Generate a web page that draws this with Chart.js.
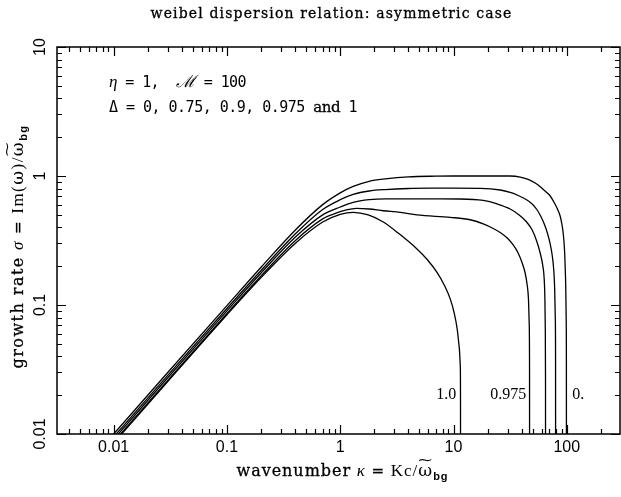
<!DOCTYPE html>
<html>
<head>
<meta charset="utf-8">
<script src="https://cdn.jsdelivr.net/npm/chart.js@4.4.0/dist/chart.umd.min.js"></script>
<style>
  html, body { margin: 0; padding: 0; background: #fff; }
  #wrap { width: 621px; height: 497px; }
</style>
</head>
<body>
<div id="wrap"><canvas id="weibelChart" width="621" height="497"></canvas></div>
<script>
// Growth rate sigma(kappa), one curve per Delta
const kappa0 = [0.003, 0.01, 0.03, 0.1, 0.2, 0.4, 0.7, 1.0, 1.3, 1.8, 2.5, 4, 7, 10, 15, 20, 31.65, 38.8, 45.6, 52.6, 59.4, 65.8, 71.4, 77.4, 82.3, 87.4, 91.1, 93.5, 95.4, 96.8, 98.0, 98.8, 99.2, 99.4];
const sigma0 = [0.003, 0.01, 0.03, 0.099, 0.196, 0.38, 0.60, 0.74, 0.83, 0.91, 0.95, 0.985, 0.997, 1.0, 1.0, 1.0, 1.0, 0.982, 0.94, 0.882, 0.814, 0.751, 0.70, 0.623, 0.56, 0.49, 0.41, 0.343, 0.272, 0.197, 0.133, 0.078, 0.038, 0.0005];

const kappa75 = [0.003, 0.01, 0.03, 0.1, 0.2, 0.4, 0.7, 1.0, 1.3, 1.8, 2.5, 4, 7, 10, 17.2, 25.83, 31.65, 37.2, 43.8, 49.5, 54.8, 59.4, 63.8, 67.8, 71.4, 74.3, 76.6, 78.2, 79.2, 79.6, 79.8];
const sigma75 = [0.00285, 0.0095, 0.0285, 0.094, 0.185, 0.355, 0.55, 0.655, 0.72, 0.765, 0.785, 0.80, 0.805, 0.806, 0.803, 0.779, 0.745, 0.706, 0.657, 0.607, 0.545, 0.481, 0.417, 0.355, 0.297, 0.244, 0.19, 0.133, 0.078, 0.038, 0.0005];

const kappa90 = [0.003, 0.01, 0.03, 0.1, 0.2, 0.4, 0.7, 1.0, 1.3, 1.8, 2.5, 4, 7, 11.5, 18.3, 24.3, 31.65, 38.0, 43.8, 49.5, 54.2, 58.2, 61.3, 63.2, 64.1, 64.6, 64.9, 65.0];
const sigma90 = [0.00273, 0.0091, 0.0273, 0.090, 0.177, 0.335, 0.50, 0.575, 0.625, 0.655, 0.665, 0.665, 0.664, 0.663, 0.646, 0.607, 0.555, 0.499, 0.444, 0.381, 0.313, 0.253, 0.204, 0.159, 0.111, 0.065, 0.0267, 0.0005];

const kappa975 = [0.003, 0.01, 0.03, 0.1, 0.2, 0.4, 0.7, 0.87, 1.0, 1.4, 1.8, 2.4, 3.4, 4.76, 9.37, 14.07, 18.3, 22.4, 25.83, 29.8, 33.65, 37.2, 40.4, 42.9, 44.7, 45.9, 46.6, 46.9, 47.0];
const sigma975 = [0.00261, 0.0087, 0.026, 0.086, 0.168, 0.315, 0.465, 0.507, 0.53, 0.562, 0.555, 0.538, 0.523, 0.499, 0.478, 0.458, 0.425, 0.392, 0.365, 0.331, 0.292, 0.253, 0.2116, 0.177, 0.143, 0.111, 0.0712, 0.032, 0.0005];

const kappa100 = [0.003, 0.01, 0.03, 0.1, 0.2, 0.4, 0.7, 1.0, 1.31, 1.767, 2.40, 3.25, 4.76, 5.86, 7.15, 8.28, 9.37, 10.14, 10.78, 11.23, 11.48, 11.53, 11.55];
const sigma100 = [0.00255, 0.0085, 0.0255, 0.084, 0.163, 0.30, 0.44, 0.505, 0.523, 0.499, 0.44, 0.361, 0.272, 0.2253, 0.179, 0.143, 0.111, 0.0867, 0.0651, 0.0472, 0.0337, 0.0187, 0.0005];

const deltaValues = ['0', '0.75', '0.9', '0.975', '1'];
const xTickLabels = ['0.01', '0.1', '1', '10', '100'];
const yTickLabels = ['0.01', '0.1', '1', '10'];
const curveLabels = ['1.0', '0.975', '0.'];

const SANS = '"Liberation Sans", Arial, sans-serif';
const MONO = '"DejaVu Sans Mono", monospace';
const SERIF = '"Liberation Serif", "Times New Roman", serif';
const DSERIF = '"DejaVu Serif", serif';

function toPoints(ks, ss) {
    return ks.map((k, i) => ({ x: k, y: ss[i] }));
}

function partWidth(ctx, p, sp) {
    ctx.font = p.f;
    ctx.letterSpacing = sp + 'px';
    return ctx.measureText(p.t).width;
}

// draw a run of text pieces {t, f, dy, tilde, heavy}; if target is given the
// letter spacing is widened so the whole run spans that many pixels
function drawRich(ctx, parts, x, y, align, target) {
    let natural = 0, chars = 0;
    parts.forEach(p => { natural += partWidth(ctx, p, 0); chars += p.t.length; });
    const sp = target ? (target - natural) / chars : 0;
    const total = target || natural;
    let cx = align === 'center' ? x - total / 2 : x;
    ctx.textAlign = 'left';
    ctx.textBaseline = 'alphabetic';
    parts.forEach(p => {
        const w = partWidth(ctx, p, sp);
        ctx.fillText(p.t, cx, y + (p.dy || 0));
        if (p.heavy) {
            ctx.lineWidth = 0.3;
            ctx.strokeText(p.t, cx, y + (p.dy || 0));
        }
        if (p.tilde) {
            // wide tilde over omega
            const gw = partWidth(ctx, p, 0);
            ctx.save();
            ctx.letterSpacing = '0px';
            ctx.translate(cx + gw / 2, y - 12);
            ctx.scale(1.5, 1);
            ctx.font = '13px ' + DSERIF;
            ctx.textAlign = 'center';
            ctx.fillText('~', 0, 0);
            ctx.restore();
        }
        cx += w;
    });
    ctx.letterSpacing = '0px';
}

const axesPlugin = {
    id: 'axesPlugin',
    afterDraw(chart) {
        const ctx = chart.ctx;
        const xs = chart.scales.x, ys = chart.scales.y;
        const a = chart.chartArea;
        ctx.save();
        ctx.strokeStyle = '#000';
        ctx.fillStyle = '#000';

        // frame
        ctx.lineWidth = 1.5;
        ctx.strokeRect(a.left, a.top, a.right - a.left, a.bottom - a.top);

        // inward ticks on all four sides
        ctx.lineWidth = 1.2;
        ctx.beginPath();
        for (let d = -3; d <= 2; d++) {
            for (let m = 1; m <= 9; m++) {
                const v = m * Math.pow(10, d);
                if (v < xs.min || v > xs.max) continue;
                const px = Math.round(xs.getPixelForValue(v)) + 0.5;
                const len = m === 1 ? 9 : 5;
                ctx.moveTo(px, a.bottom); ctx.lineTo(px, a.bottom - len);
                ctx.moveTo(px, a.top); ctx.lineTo(px, a.top + len);
            }
        }
        for (let d = -2; d <= 1; d++) {
            for (let m = 1; m <= 9; m++) {
                const v = m * Math.pow(10, d);
                if (v < ys.min || v > ys.max) continue;
                const py = Math.round(ys.getPixelForValue(v)) + 0.5;
                const len = m === 1 ? 9 : 5;
                ctx.moveTo(a.left, py); ctx.lineTo(a.left + len, py);
                ctx.moveTo(a.right, py); ctx.lineTo(a.right - len, py);
            }
        }
        ctx.stroke();

        // tick labels
        ctx.font = '16px ' + SANS;
        ctx.textAlign = 'center';
        ctx.textBaseline = 'alphabetic';
        xTickLabels.forEach(t => {
            ctx.fillText(t, xs.getPixelForValue(parseFloat(t)), a.bottom + 18);
        });
        yTickLabels.forEach(t => {
            ctx.save();
            ctx.translate(a.left - 12, ys.getPixelForValue(parseFloat(t)));
            ctx.rotate(-Math.PI / 2);
            ctx.fillText(t, 0, 0);
            ctx.restore();
        });

        // title over the plot area
        const midX = (a.left + a.right) / 2;
        const midY = (a.top + a.bottom) / 2;
        drawRich(ctx, [{ t: 'weibel dispersion relation: asymmetric case', f: '14px ' + DSERIF, heavy: true }], midX - 7, 18, 'center', 362);

        // x axis title
        const word = '15px ' + DSERIF;
        drawRich(ctx, [
            { t: 'wavenumber', f: '16px ' + DSERIF, heavy: true },
            { t: ' ', f: word },
            { t: '\u03ba', f: 'italic 17px ' + SERIF },
            { t: ' = ', f: word, heavy: true },
            { t: 'Kc/', f: '17px ' + SERIF },
            { t: '\u03c9', f: '17px ' + DSERIF, tilde: true },
            { t: 'bg', f: 'bold 11px ' + SANS, dy: 4 }
        ], midX + 4, 476, 'center', 212);

        // y axis title
        ctx.save();
        ctx.translate(23, midY + 6);
        ctx.rotate(-Math.PI / 2);
        drawRich(ctx, [
            { t: 'growth rate', f: '16px ' + DSERIF, heavy: true },
            { t: ' ', f: word },
            { t: '\u03c3', f: 'italic 17px ' + SERIF },
            { t: ' = ', f: word, heavy: true },
            { t: 'Im(', f: '17px ' + SERIF },
            { t: '\u03c9', f: '17px ' + DSERIF },
            { t: ')/', f: '17px ' + SERIF },
            { t: '\u03c9', f: '17px ' + DSERIF, tilde: true },
            { t: 'bg', f: 'bold 11px ' + SANS, dy: 4 }
        ], 0, 0, 'center', 244);
        ctx.restore();

        // parameter annotation
        const mono = '15px ' + MONO;
        drawRich(ctx, [
            { t: '\u03b7', f: 'italic 17px ' + SERIF },
            { t: ' = 1,  ', f: mono },
            { t: '\u2133', f: 'italic 17px ' + DSERIF },
            { t: ' = 100', f: mono }
        ], 109, 87, 'left', 137);
        drawRich(ctx, [
            { t: '\u0394 = ' + deltaValues.slice(0, 4).join(', ') + ' ', f: mono },
            { t: 'and', f: '15px ' + DSERIF, heavy: true },
            { t: ' ' + deltaValues[4], f: mono }
        ], 109, 112, 'left', 248);

        // curve labels
        ctx.font = '16px ' + SERIF;
        const ly = ys.getPixelForValue(0.0187);
        ctx.textAlign = 'right';
        ctx.fillText(curveLabels[0], xs.getPixelForValue(10.6), ly);
        ctx.fillText(curveLabels[1], xs.getPixelForValue(43.8), ly);
        ctx.textAlign = 'left';
        ctx.fillText(curveLabels[2], xs.getPixelForValue(111.6), ly);

        ctx.restore();
    }
};

function makeSet(ks, ss, delta) {
    return {
        label: '\u0394 = ' + delta,
        data: toPoints(ks, ss),
        borderColor: '#000',
        borderWidth: 1.3,
        pointRadius: 0,
        fill: false,
        cubicInterpolationMode: 'monotone'
    };
}

const ctx = document.getElementById('weibelChart').getContext('2d');
new Chart(ctx, {
    type: 'line',
    data: {
        datasets: [
            makeSet(kappa0, sigma0, deltaValues[0]),
            makeSet(kappa75, sigma75, deltaValues[1]),
            makeSet(kappa90, sigma90, deltaValues[2]),
            makeSet(kappa975, sigma975, deltaValues[3]),
            makeSet(kappa100, sigma100, deltaValues[4])
        ]
    },
    options: {
        responsive: false,
        animation: false,
        devicePixelRatio: 1,
        layout: { padding: { left: 57, right: 1, top: 47, bottom: 63 } },
        plugins: {
            legend: { display: false },
            tooltip: { enabled: false }
        },
        scales: {
            x: { type: 'logarithmic', min: 0.00316, max: 295, display: false },
            y: { type: 'logarithmic', min: 0.01, max: 10, display: false }
        }
    },
    plugins: [axesPlugin]
});
</script>
</body>
</html>
